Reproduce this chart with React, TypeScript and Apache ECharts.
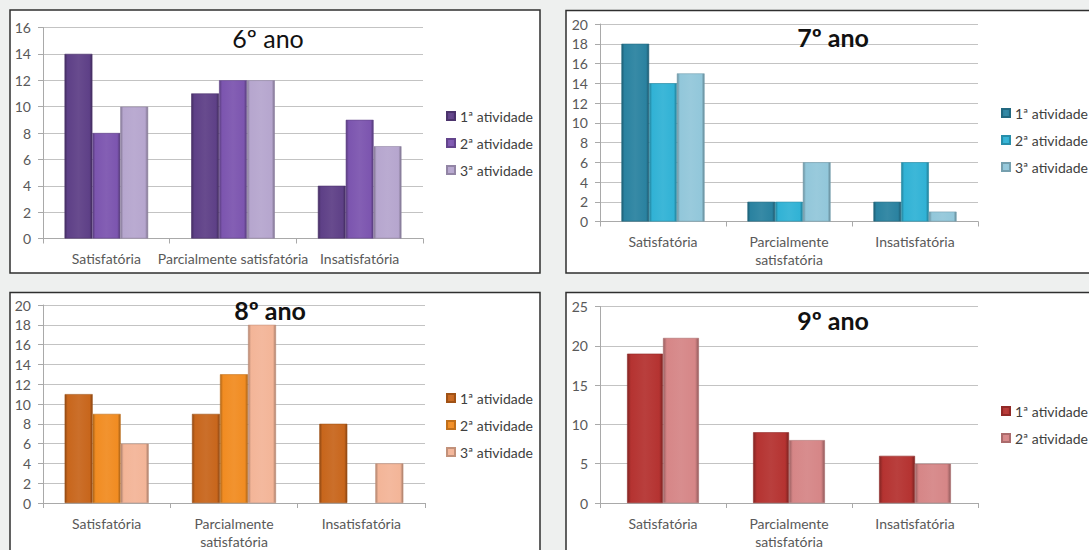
import { useEffect, useRef } from "react";
import * as echarts from "echarts";

// Response categories (the first chart keeps its labels on one line)
const catsSingleLine = ["Satisfatória", "Parcialmente satisfatória", "Insatisfatória"];
const catsWrapped = ["Satisfatória", "Parcialmente\nsatisfatória", "Insatisfatória"];
const activityNames = ["1ª atividade", "2ª atividade", "3ª atividade"];

// Number of students per activity, one row per activity, one column per category
const ano6 = [
  [14, 11, 4],
  [8, 12, 9],
  [10, 12, 7],
];
const ano7 = [
  [18, 2, 2],
  [14, 2, 6],
  [15, 6, 1],
];
const ano8 = [
  [11, 9, 8],
  [9, 13, 0],
  [6, 18, 4],
];
const ano9 = [
  [19, 9, 6],
  [21, 8, 5],
];

const titles = ["6º ano", "7º ano", "8º ano", "9º ano"];
const yMax = [16, 20, 20, 25];
const yStep = [2, 2, 2, 5];

const purple = ["#5e4087", "#7c55af", "#b6a6ce"];
const teal = ["#2a82a0", "#31b2d5", "#92c7da"];
const orange = ["#c8661c", "#f18c22", "#f3b598"];
const red = ["#b53331", "#d68687"];

const FONT = "Lato, 'Noto Sans', sans-serif";

type Panel = {
  data: number[][];
  cats: string[];
  colors: string[];
  bold: boolean;
  box: [number, number, number, number];
  grid: { left: number; top: number; width: number; height: number };
  legend: { left: number; top: number };
  title: { x: number; y: number };
  catGap: string;
};

const panels: Panel[] = [
  {
    data: ano6,
    cats: catsSingleLine,
    colors: purple,
    bold: false,
    box: [10, 10, 530, 263],
    grid: { left: 43, top: 27.5, width: 380, height: 211 },
    legend: { left: 446, top: 108 },
    title: { x: 268, y: 38 },
    catGap: "34%",
  },
  {
    data: ano7,
    cats: catsWrapped,
    colors: teal,
    bold: true,
    box: [566, 10.5, 560, 262.5],
    grid: { left: 600, top: 24, width: 378, height: 197.5 },
    legend: { left: 1001, top: 105 },
    title: { x: 833, y: 37 },
    catGap: "34%",
  },
  {
    data: ano8,
    cats: catsWrapped,
    colors: orange,
    bold: true,
    box: [10, 292.5, 530, 300],
    grid: { left: 43, top: 305, width: 382, height: 199.5 },
    legend: { left: 446, top: 390 },
    title: { x: 270, y: 310 },
    catGap: "34%",
  },
  {
    data: ano9,
    cats: catsWrapped,
    colors: red,
    bold: true,
    box: [566, 292.5, 560, 300],
    grid: { left: 600, top: 306.5, width: 378, height: 197.5 },
    legend: { left: 1001, top: 403 },
    title: { x: 833, y: 320 },
    catGap: "43%",
  },
];

function mix(hex: string, target: number, amount: number): string {
  const n = parseInt(hex.slice(1), 16);
  const ch = [(n >> 16) & 255, (n >> 8) & 255, n & 255].map((c) =>
    Math.round(c + (target - c) * amount)
  );
  return "#" + ch.map((c) => c.toString(16).padStart(2, "0")).join("");
}

function barFill(c: string) {
  return new echarts.graphic.LinearGradient(0, 0, 1, 0, [
    { offset: 0, color: mix(c, 0, 0.28) },
    { offset: 0.1, color: c },
    { offset: 0.5, color: mix(c, 255, 0.06) },
    { offset: 0.9, color: c },
    { offset: 1, color: mix(c, 0, 0.32) },
  ]);
}

function buildOption() {
  const axisGrey = "#a9a9a9";
  const series: any[] = [];
  panels.forEach((p, i) => {
    p.data.forEach((values, j) => {
      series.push({
        type: "bar",
        name: `${titles[i]}|${activityNames[j]}`,
        xAxisIndex: i,
        yAxisIndex: i,
        // a zero count leaves no visible bar, so its outline is dropped too
        data: values.map((v) => (v === 0 ? { value: v, itemStyle: { borderWidth: 0 } } : v)),
        barGap: "0%",
        barCategoryGap: p.catGap,
        itemStyle: {
          color: barFill(p.colors[j]),
          borderColor: mix(p.colors[j], 0, 0.2),
          borderWidth: 0.6,
        },
      });
    });
  });

  return {
    animation: false,
    backgroundColor: "#eef0ef",
    textStyle: { fontFamily: FONT },
    graphic: {
      elements: panels.map((p) => ({
        type: "rect",
        z: -10,
        shape: { x: p.box[0], y: p.box[1], width: p.box[2], height: p.box[3] },
        style: { fill: "#ffffff", stroke: "#2f2f2f", lineWidth: 1.5 },
      })),
    },
    title: panels.map((p, i) => ({
      text: titles[i],
      left: p.title.x,
      top: p.title.y - 14,
      textAlign: "center",
      padding: 0,
      textStyle: {
        fontFamily: FONT,
        fontSize: 25,
        fontWeight: p.bold ? "bold" : "normal",
        color: "#111111",
        lineHeight: 28,
      },
    })),
    legend: panels.map((p, i) => ({
      data: p.data.map((_, j) => `${titles[i]}|${activityNames[j]}`),
      orient: "vertical",
      left: p.legend.left,
      top: p.legend.top,
      padding: 0,
      icon: "rect",
      itemWidth: 8,
      itemHeight: 8,
      itemGap: 11,
      selectedMode: false,
      formatter: (name: string) => name.split("|")[1],
      textStyle: { fontFamily: FONT, fontSize: 14, color: "#404040", lineHeight: 16 },
    })),
    grid: panels.map((p) => ({ ...p.grid, containLabel: false })),
    xAxis: panels.map((p, i) => ({
      type: "category",
      gridIndex: i,
      data: p.cats,
      axisLine: { show: true, lineStyle: { color: axisGrey } },
      axisTick: { show: true, length: 5, lineStyle: { color: axisGrey } },
      axisLabel: {
        interval: 0,
        margin: 11,
        fontFamily: FONT,
        fontSize: 14,
        lineHeight: 18,
        color: "#595959",
      },
    })),
    yAxis: panels.map((p, i) => ({
      type: "value",
      gridIndex: i,
      min: 0,
      max: yMax[i],
      interval: yStep[i],
      axisLine: { show: true, lineStyle: { color: axisGrey } },
      axisTick: { show: true, length: 5, lineStyle: { color: axisGrey } },
      splitLine: { show: true, lineStyle: { color: "#c3c3c3" } },
      axisLabel: { margin: 12, fontFamily: FONT, fontSize: 14, color: "#595959" },
    })),
    series,
  };
}

export default function App() {
  const ref = useRef<HTMLDivElement>(null);
  useEffect(() => {
    if (!ref.current) return;
    const chart = echarts.init(ref.current, null, { renderer: "svg" });
    chart.setOption(buildOption() as any);
    return () => chart.dispose();
  }, []);
  return (
    <div
      ref={ref}
      style={{ position: "fixed", left: 0, top: 0, width: 1089, height: 550 }}
    />
  );
}
